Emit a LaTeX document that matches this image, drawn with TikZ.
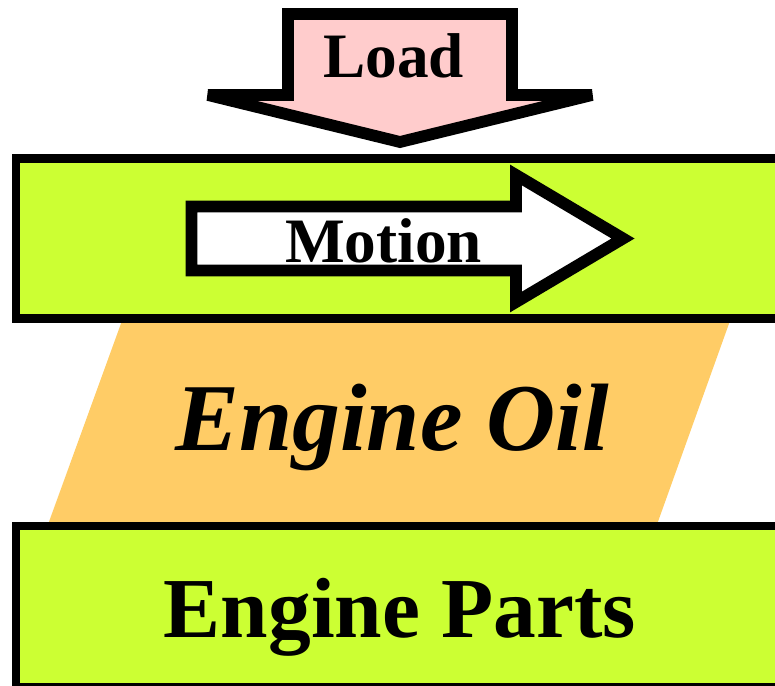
\documentclass[tikz,border=0pt]{standalone}
\usepackage{fontspec}
\setmainfont{Liberation Serif}
\usepackage{tikz}
\usepackage{xcolor}
\usetikzlibrary{positioning}
\definecolor{PlateGreen}{RGB}{204,255,51}
\definecolor{LoadPink}{RGB}{255,204,204}
\definecolor{OilOrange}{RGB}{255,204,102}
\tikzset{
  arrowbody/.style={draw=black, line width=6.7pt, line join=miter, miter limit=3},
  platebox/.style={fill=PlateGreen, draw=black, line width=4.8pt},
  bigtext/.style={inner sep=0pt, anchor=base, font=\bfseries\fontsize{36}{40}\selectfont}
}

\begin{document}
\begin{tikzpicture}[x=0.2mm, y=-0.2mm]
        \useasboundingbox (0,0) rectangle (775,685);
        \clip (0,0) rectangle (775,685);
        \fill[OilOrange] (123,318)--(731,318)--(655,530)--(46,530)--cycle;
        \draw[platebox] (16,158.5) rectangle (800,318.5);
        \draw[platebox] (16,526) rectangle (800,687);
        \draw[arrowbody, fill=LoadPink] (288,14)--(512,14)--(512,95)--(592,95)--(400,142)--(208,95)--(288,95)--cycle;
        \draw[arrowbody, fill=white] (191.5,206.5)--(516,206.5)--(516,175)--(623,238.5)--(516,302)--(516,270.5)--(191.5,270.5)--cycle;
        \node[bigtext] (load) at (393.5,77) {Load};
        \node[bigtext] (motion) at (383.5,262.7) {Motion};
        \node[bigtext, font=\bfseries\itshape\fontsize{54.5}{60}\selectfont] (oil) at (392,450) {Engine Oil};
        \node[bigtext, font=\bfseries\fontsize{48.6}{56}\selectfont] (parts) at (400,637.3) {Engine Parts};
      \end{tikzpicture}
\end{document}
